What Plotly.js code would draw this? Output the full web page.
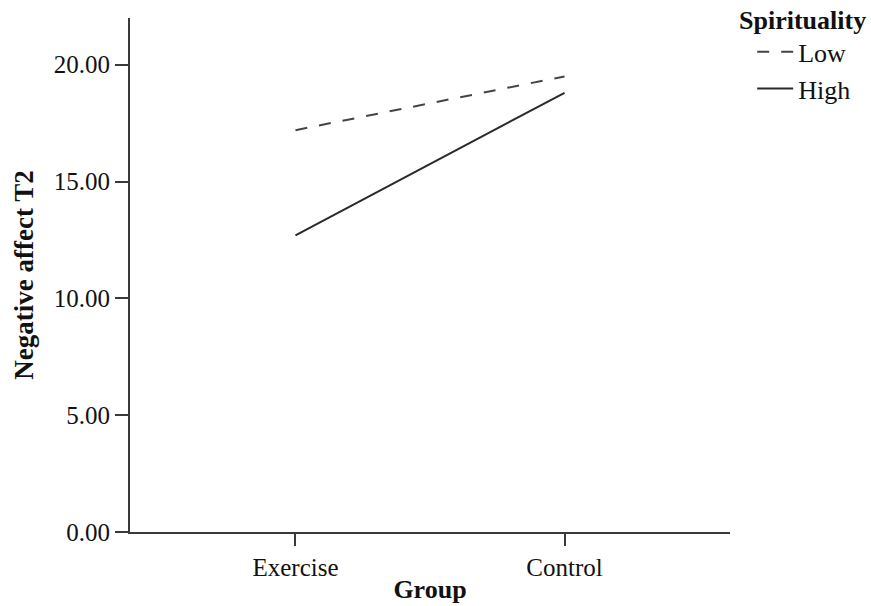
<!DOCTYPE html>
<html>
<head>
<meta charset="utf-8">
<script src="https://cdn.plot.ly/plotly-3.0.1.min.js"></script>
<style>html,body{margin:0;padding:0;background:#fff;}#chart{width:871px;height:606px;}</style>
</head>
<body>
<div id="chart"></div>
<script>
const groups = ["Exercise", "Control"];
const lowValues = [17.2, 19.5];
const highValues = [12.7, 18.8];
const seriesNames = ["Low", "High"];
const yTicks = [0, 5, 10, 15, 20];

const font = "Liberation Serif, Times New Roman, serif";
const lineColor = "#3a3a3a";

const data = [
  {x: [0, 1], y: lowValues, type: "scatter", mode: "lines", name: seriesNames[0],
   line: {color: "#444", width: 2, dash: "12px,12px"}},
  {x: [0, 1], y: highValues, type: "scatter", mode: "lines", name: seriesNames[1],
   line: {color: "#2a2a2a", width: 2}}
];

const layout = {
  width: 871, height: 606,
  margin: {l: 130, r: 141, t: 18, b: 74},
  paper_bgcolor: "#fff", plot_bgcolor: "#fff",
  font: {family: font, size: 25, color: "#111"},
  showlegend: true,
  legend: {x: 1.037, y: 0.98, xanchor: "left", yanchor: "top",
    font: {family: font, size: 26, color: "#111"}, tracegroupgap: 0, itemwidth: 36,
    bgcolor: "rgba(0,0,0,0)"},
  xaxis: {
    range: [-0.615, 1.615], tickvals: [0, 1], ticktext: groups,
    showline: true, linecolor: lineColor, linewidth: 2, showgrid: false, zeroline: false,
    ticks: "outside", ticklen: 12, tickwidth: 2, tickcolor: lineColor,
    tickfont: {family: font, size: 25, color: "#111"},
    title: {text: "<b>Group</b>", font: {family: font, size: 26, color: "#111"}, standoff: 0}
  },
  yaxis: {
    range: [0, 22], tickvals: yTicks, tickformat: ".2f",
    showline: true, linecolor: lineColor, linewidth: 2, showgrid: false, zeroline: false,
    ticks: "outside", ticklen: 13, tickwidth: 2, tickcolor: lineColor,
    tickfont: {family: font, size: 25, color: "#111"},
    title: {text: "<b>Negative affect T2</b>", font: {family: font, size: 27, color: "#111"}, standoff: 12}
  },
  annotations: [{
    text: "<b>Spirituality</b>", xref: "paper", yref: "paper", x: 1.011, y: 0.996,
    xanchor: "left", yanchor: "middle", showarrow: false,
    font: {family: font, size: 26, color: "#111"}
  }]
};

Plotly.newPlot("chart", data, layout, {displayModeBar: false, staticPlot: true});
</script>
</body>
</html>
